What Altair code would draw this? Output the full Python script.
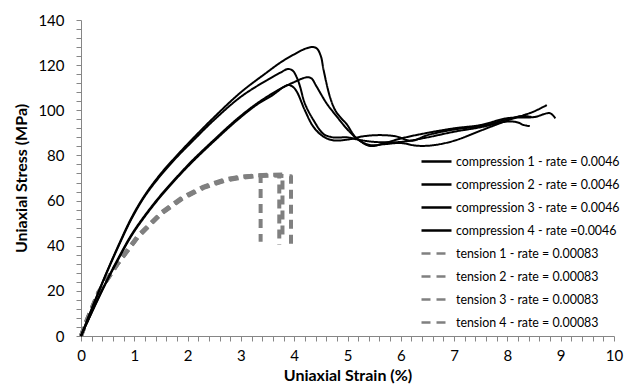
import altair as alt
import pandas as pd

# ---- data ----
c1_strain = [0, 0.2, 0.45, 0.7, 0.95, 1.2, 1.5, 1.8, 2.1, 2.5, 3.0, 3.5, 3.75, 4.0, 4.2, 4.33, 4.42, 4.5, 4.55, 4.67, 4.77, 4.88, 4.98, 5.17, 5.42, 5.7, 6.0, 6.3, 6.6, 7.0, 7.5, 8.0, 8.3, 8.5, 8.74]
c1_stress = [0, 12, 26.5, 40, 52.5, 62.5, 72, 80, 87.5, 97, 108, 117, 121.3, 124.8, 127.2, 128, 127.5, 124, 118, 106, 100, 96.5, 94, 87.6, 84.6, 85, 85.5, 84.3, 84.5, 86.5, 91, 95.5, 97.8, 99.5, 102.3]

c2_strain = [0, 0.2, 0.45, 0.7, 0.95, 1.2, 1.5, 1.8, 2.1, 2.5, 3.0, 3.5, 3.75, 3.88, 3.97, 4.05, 4.11, 4.2, 4.36, 4.55, 4.73, 5.0, 5.2, 5.5, 6.0, 6.5, 7.0, 7.5, 8.0, 8.2, 8.3, 8.42]
c2_stress = [0, 11.8, 26.2, 39.6, 52, 62, 71.3, 79.3, 86.5, 95.8, 106, 113.5, 116.8, 118.3, 117.6, 114.5, 110.5, 103, 95.7, 89.5, 88, 88, 87, 86, 86, 88, 90.5, 92.5, 95, 94.6, 93.5, 93]

c3_strain = [0, 0.2, 0.45, 0.7, 0.95, 1.2, 1.5, 1.8, 2.1, 2.5, 2.92, 3.3, 3.7, 4.0, 4.23, 4.32, 4.42, 4.61, 4.8, 4.98, 5.17, 5.42, 5.7, 6.0, 6.5, 7.0, 7.5, 8.0, 8.5, 8.8, 8.9]
c3_stress = [0, 10.5, 23, 34.5, 45, 53.5, 62.5, 70.5, 78, 87, 96, 103, 109, 112.5, 114.6, 114.2, 110.5, 103, 97.2, 92, 87.6, 84.2, 85.5, 87.5, 90, 92, 93.5, 96.5, 97, 98.7, 96.4]

c4_strain = [0, 0.2, 0.45, 0.7, 0.95, 1.2, 1.5, 1.8, 2.1, 2.5, 2.92, 3.3, 3.6, 3.8, 3.89, 3.97, 4.05, 4.2, 4.36, 4.55, 4.73, 5.0, 5.3, 5.6, 5.9, 6.2, 6.5, 7.0, 7.5, 8.0, 8.3, 8.45]
c4_stress = [0, 10.3, 22.6, 34, 44.5, 53, 62, 70, 77.4, 86.4, 95.4, 102.5, 106.8, 110.3, 111.2, 110.5, 108.2, 100, 92.7, 88.3, 86.7, 87, 88.5, 89, 88.5, 86.5, 89, 91.5, 93, 96, 97.5, 97]

t1_strain = [0, 0.1, 0.32, 0.69, 1.07, 1.51, 1.9, 2.3, 2.7, 3.0, 3.2, 3.37, 3.37]
t1_stress = [0, 6.5, 19, 32, 44, 54.4, 61, 65.8, 69, 70.3, 70.8, 71.1, 41.8]

t2_strain = [0, 0.1, 0.32, 0.69, 1.07, 1.51, 1.9, 2.3, 2.7, 3.0, 3.3, 3.5, 3.72, 3.72]
t2_stress = [0, 6.4, 18.8, 32.2, 44.2, 54.5, 61.2, 66, 69.2, 70.5, 71, 71.2, 71.3, 40.3]

t3_strain = [0, 0.1, 0.32, 0.69, 1.07, 1.51, 1.9, 2.3, 2.7, 3.0, 3.3, 3.5, 3.78, 3.78]
t3_stress = [0, 6.6, 19.2, 32.5, 44.5, 54.8, 61.5, 66.2, 69.4, 70.6, 71.2, 71.4, 71.5, 42.5]

t4_strain = [0, 0.1, 0.32, 0.69, 1.07, 1.51, 1.9, 2.3, 2.7, 3.0, 3.3, 3.6, 3.94, 3.94]
t4_stress = [0, 6.3, 18.7, 32, 43.8, 54.2, 60.8, 65.6, 68.8, 70.1, 70.8, 71.1, 70.8, 40.3]

names = [
    "compression 1 - rate = 0.0046",
    "compression 2 - rate = 0.0046",
    "compression 3 - rate = 0.0046",
    "compression 4 - rate  =0.0046",
    "tension 1 - rate = 0.00083",
    "tension 2 - rate = 0.00083",
    "tension 3 - rate = 0.00083",
    "tension 4 - rate = 0.00083",
]
kinds = ["compression"] * 4 + ["tension"] * 4
series_x = [c1_strain, c2_strain, c3_strain, c4_strain, t1_strain, t2_strain, t3_strain, t4_strain]
series_y = [c1_stress, c2_stress, c3_stress, c4_stress, t1_stress, t2_stress, t3_stress, t4_stress]

x_ticks = [round(i * 0.2, 1) for i in range(51)]
y_ticks = list(range(0, 141, 4))

rows = []
for name, kind, xs, ys in zip(names, kinds, series_x, series_y):
    for i, (xv, yv) in enumerate(zip(xs, ys)):
        rows.append({"series": name, "kind": kind, "i": i, "strain": xv, "stress": yv})
df = pd.DataFrame(rows)

colors = ["#000000"] * 4 + ["#808080"] * 4
dashes = [[1, 0]] * 4 + [[9, 6]] * 4

legend = alt.Legend(
    title=None, orient="none", legendX=344, legendY=130,
    symbolType="M-1.5,0H1.5", symbolSize=400, symbolStrokeWidth=2.5,
    labelFont="Lato", labelFontSize=12.4, labelColor="#000000",
    labelOffset=8, rowPadding=5, padding=0, labelLimit=400,
)

xenc = alt.X("strain:Q", scale=alt.Scale(domain=[0, 10], nice=False),
             axis=alt.Axis(title="Uniaxial Strain (%)", values=x_ticks,
                           labelExpr="abs(datum.value - round(datum.value)) < 0.001 ? format(datum.value, 'd') : ''",
                           labelOverlap=False, labelFlush=False, tickSize=5, labelPadding=7, titlePadding=4))
yenc = alt.Y("stress:Q", scale=alt.Scale(domain=[0, 140], nice=False),
             axis=alt.Axis(title="Uniaxial Stress (MPa)", values=y_ticks,
                           labelExpr="datum.value % 20 === 0 ? datum.label : ''",
                           labelOverlap=False, labelFlush=False, tickSize=5, labelPadding=12, titlePadding=8))
cenc = alt.Color("series:N", scale=alt.Scale(domain=names, range=colors), legend=legend)
denc = alt.StrokeDash("series:N", scale=alt.Scale(domain=names, range=dashes), legend=legend)

comp = alt.Chart(df).transform_filter(alt.datum.kind == "compression").mark_line(
    strokeWidth=2, interpolate="catmull-rom", strokeJoin="round"
).encode(x=xenc, y=yenc, color=cenc, strokeDash=denc, order=alt.Order("i:Q"))

tens = alt.Chart(df).transform_filter(alt.datum.kind == "tension").mark_line(
    strokeWidth=4, interpolate="linear", strokeJoin="round"
).encode(x=xenc, y=yenc, color=cenc, strokeDash=denc, order=alt.Order("i:Q"))

chart = alt.layer(tens, comp).properties(
    width=533, height=316,
    autosize=alt.AutoSizeParams(type="none"),
    padding={"left": 73, "top": 12, "right": 10, "bottom": 48},
).configure_view(stroke=None).configure_axis(
    grid=False, domainColor="#868686", tickColor="#868686", domainWidth=1, tickWidth=1,
    labelFont="Lato", labelFontSize=15, labelColor="#000000",
    titleFont="Lato", titleFontSize=16, titleFontWeight="bold", titleColor="#000000",
)

chart.save("out.html", embed_options={"renderer": "svg", "actions": False})
